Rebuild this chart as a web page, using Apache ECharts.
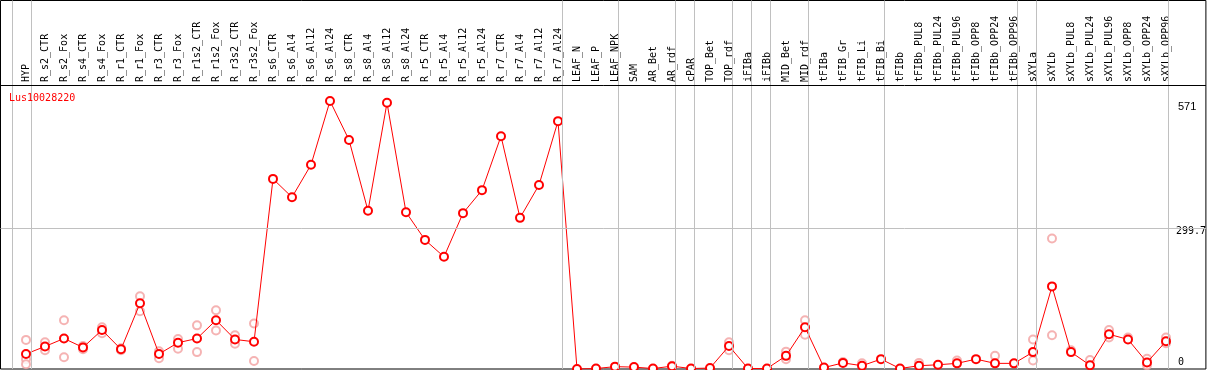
<!DOCTYPE html>
<html>
<head>
<meta charset="utf-8">
<script src="https://cdn.jsdelivr.net/npm/echarts@6/dist/echarts.min.js"></script>
<style>
  html, body { margin: 0; padding: 0; background: #fff; }
  #chart { width: 1209px; height: 370px; }
</style>
</head>
<body>
<div id="chart"></div>
<script>
const geneName = "Lus10028220";

const categories = [
  "HYP", "R_s2_CTR", "R_s2_Fox", "R_s4_CTR", "R_s4_Fox", "R_r1_CTR", "R_r1_Fox",
  "R_r3_CTR", "R_r3_Fox", "R_r1s2_CTR", "R_r1s2_Fox", "R_r3s2_CTR", "R_r3s2_Fox",
  "R_s6_CTR", "R_s6_Al4", "R_s6_Al12", "R_s6_Al24", "R_s8_CTR", "R_s8_Al4", "R_s8_Al12", "R_s8_Al24",
  "R_r5_CTR", "R_r5_Al4", "R_r5_Al12", "R_r5_Al24", "R_r7_CTR", "R_r7_Al4", "R_r7_Al12", "R_r7_Al24",
  "LEAF_N", "LEAF_P", "LEAF_NPK", "SAM", "AR_Bet", "AR_rdf", "cPAR", "TOP_Bet", "TOP_rdf",
  "iFIBa", "iFIBb", "MID_Bet", "MID_rdf", "tFIBa", "tFIB_Gr", "tFIB_Li", "tFIB_Bi", "tFIBb",
  "tFIBb_PUL8", "tFIBb_PUL24", "tFIBb_PUL96", "tFIBb_OPP8", "tFIBb_OPP24", "tFIBb_OPP96",
  "sXYLa", "sXYLb", "sXYLb_PUL8", "sXYLb_PUL24", "sXYLb_PUL96", "sXYLb_OPP8", "sXYLb_OPP24", "sXYLb_OPP96"
];

// mean expression per sample
const meanValues = [
  32, 48, 65, 46, 83, 42, 140, 32, 56, 65, 104, 63, 58,
  405, 366, 435, 571, 488, 337, 567, 334,
  275, 239, 332, 381, 496, 322, 392, 528,
  0, 1, 5, 4, 1, 6, 1, 2, 49,
  1, 1, 28, 89, 3, 13, 7, 21, 1,
  7, 9, 12, 21, 12, 12,
  36, 176, 36, 8, 74, 63, 14, 59
];

// replicate values per sample (light circles)
const replicateValues = [
  [62, 21, 10], [57, 40], [104, 25], [49, 42], [89, 76], [40, 44], [155, 123],
  [38, 23], [64, 43], [93, 36], [125, 82], [72, 54], [97, 17],
  [], [], [], [], [], [], [], [],
  [], [], [], [], [], [], [], [],
  [], [], [], [], [], [7], [], [], [57, 40],
  [], [], [37, 21], [104, 73], [], [15], [12], [], [],
  [13], [], [18], [], [28], [],
  [63, 18], [278, 72], [40], [19], [83, 67], [67], [22, 8], [67, 55]
];

// last sample index of each group (grey separators), -1 = before first
const groupEnds = [-1, 0, 28, 31, 34, 35, 37, 38, 39, 41, 45, 52, 53, 60];

const yTicks = [0, 299.7, 571];

const plotMax = 605;
const frameMax = plotMax * 369 / 284;
const step = 19;
const firstX = 26;

const repData = [];
replicateValues.forEach((reps, i) => {
  reps.forEach(v => repData.push([i, v]));
});

const lineMarks = groupEnds.map(i => ({
  xAxis: i + 4.5 / step,
  lineStyle: { color: "#c0c0c0", width: 1, type: "solid" }
}));
lineMarks.push({ yAxis: yTicks[1], lineStyle: { color: "#c0c0c0", width: 1, type: "solid" } });
lineMarks.push({ yAxis: plotMax, lineStyle: { color: "#000", width: 1, type: "solid" } });

const chart = echarts.init(document.getElementById("chart"));
chart.setOption({
  animation: false,
  title: {
    text: geneName,
    left: 9,
    top: 93,
    padding: 0,
    textStyle: {
      color: "#ff0000",
      fontFamily: "DejaVu Sans Mono",
      fontSize: 10,
      fontWeight: "normal"
    }
  },
  grid: [
    { left: 16.5, width: 1159, top: 85, height: 284 },
    { left: 0.5, right: 1, top: 0.5, bottom: 1, show: true, borderColor: "#000", borderWidth: 1, backgroundColor: "transparent" }
  ],
  xAxis: [
    {
      type: "category",
      gridIndex: 0,
      position: "top",
      data: categories,
      axisLine: { show: false },
      axisTick: { show: false },
      splitLine: { show: false },
      axisLabel: {
        rotate: 90,
        interval: 0,
        margin: 3,
        color: "#000",
        fontFamily: "DejaVu Sans Mono",
        fontSize: 10
      }
    },
    {
      type: "value",
      gridIndex: 1,
      min: -firstX / step,
      max: (1208 - firstX) / step,
      show: false
    }
  ],
  yAxis: [
    {
      type: "value",
      gridIndex: 0,
      min: 0,
      max: plotMax,
      show: false
    },
    {
      type: "value",
      gridIndex: 1,
      min: 0,
      max: frameMax,
      position: "right",
      axisLine: { show: false },
      axisTick: { show: false },
      splitLine: { show: false },
      axisLabel: {
        inside: true,
        align: "left",
        margin: 30,
        customValues: yTicks,
        color: "#000",
        fontFamily: "DejaVu Sans Mono",
        fontSize: 10,
        formatter: v => {
          if (v === 0) return "{b|0}";
          if (v === 571) return "{t|571}";
          return "{m|" + v + "}";
        },
        rich: {
          t: { fontFamily: "Liberation Sans", fontSize: 11, padding: [12, 0, 0, 2] },
          m: { fontFamily: "DejaVu Sans Mono", fontSize: 10, padding: [5, 0, 0, 0] },
          b: { fontFamily: "DejaVu Sans Mono", fontSize: 10, padding: [0, 0, 14, 2] }
        }
      }
    }
  ],
  series: [
    {
      type: "scatter",
      xAxisIndex: 1,
      yAxisIndex: 1,
      data: [],
      silent: true,
      markLine: {
        silent: true,
        symbol: "none",
        label: { show: false },
        data: lineMarks
      }
    },
    {
      name: "replicates",
      type: "scatter",
      xAxisIndex: 0,
      yAxisIndex: 0,
      data: repData,
      symbol: "emptyCircle",
      symbolSize: 8,
      itemStyle: { color: "#f2a0a0", borderColor: "#f2a0a0", borderWidth: 1.2 },
      z: 3
    },
    {
      name: geneName,
      type: "line",
      xAxisIndex: 0,
      yAxisIndex: 0,
      data: meanValues,
      symbol: "emptyCircle",
      symbolSize: 8,
      showAllSymbol: true,
      lineStyle: { color: "#ff0000", width: 1 },
      itemStyle: { color: "#ff0000", borderColor: "#ee0000", borderWidth: 1.3 },
      z: 4
    }
  ]
});
</script>
</body>
</html>
